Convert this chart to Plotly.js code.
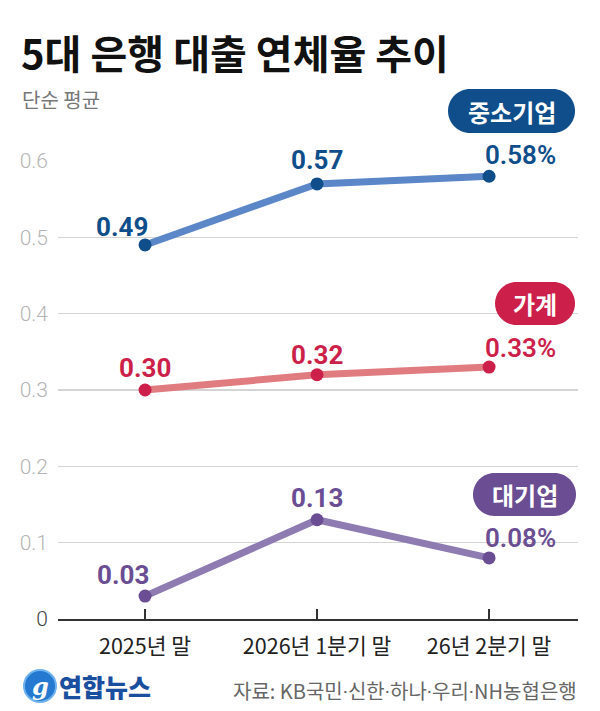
<!DOCTYPE html>
<html>
<head>
<meta charset="utf-8">
<script src="https://cdn.plot.ly/plotly-3.0.1.min.js"></script>
<style>
  html, body { margin: 0; padding: 0; background: #fff; }
  #chart { width: 600px; height: 711px; }
</style>
</head>
<body>
<div id="chart"></div>
<script>
// Periods on the x axis
const periods = ['2025년 말', '2026년 1분기 말', '26년 2분기 말'];

// Delinquency rates (%), simple average of five banks
const smeRates = [0.49, 0.57, 0.58];       // 중소기업
const householdRates = [0.30, 0.32, 0.33]; // 가계
const largeCorpRates = [0.03, 0.13, 0.08]; // 대기업

// Y axis ticks
const yTickVals = [0, 0.1, 0.2, 0.3, 0.4, 0.5, 0.6];
const yTickText = ['<span style="color:#444">0</span>', '0.1', '0.2', '0.3', '0.4', '0.5', '0.6'];

// Series names
const seriesNames = ['중소기업', '가계', '대기업'];

// Text
const titleText = '5대 은행 대출 연체율 추이';
const subtitleText = '단순 평균';
const sourceText = '자료: KB국민·신한·하나·우리·NH농협은행';
const logoText = '연합뉴스';

// ---- geometry helpers (pixel -> paper) ----
const W = 600, H = 711;
const M = { l: 58, r: 22, t: 161, b: 92 };
const PW = W - M.l - M.r, PH = H - M.t - M.b;
const px = x => (x - M.l) / PW;
const py = y => (H - M.b - y) / PH;

// Rounded pill outline as an SVG path in paper coordinates
function pillPath(x0, y0, x1, y1) {
  const r = (y1 - y0) / 2, k = 0.5523 * r;
  const P = (x, y) => px(x).toFixed(5) + ',' + py(y).toFixed(5);
  return 'M' + P(x0 + r, y0) +
    ' L' + P(x1 - r, y0) +
    ' C' + P(x1 - r + k, y0) + ' ' + P(x1, y0 + r - k) + ' ' + P(x1, y0 + r) +
    ' C' + P(x1, y0 + r + k) + ' ' + P(x1 - r + k, y1) + ' ' + P(x1 - r, y1) +
    ' L' + P(x0 + r, y1) +
    ' C' + P(x0 + r - k, y1) + ' ' + P(x0, y0 + r + k) + ' ' + P(x0, y0 + r) +
    ' C' + P(x0, y0 + r - k) + ' ' + P(x0 + r - k, y0) + ' ' + P(x0 + r, y0) + ' Z';
}

// Style of each series: line/marker colours, value-label offsets, badge box
const series = [
  { name: seriesNames[0], y: smeRates, line: '#5b87c9', dark: '#0f4e8a',
    dx: [-23, 0, 31], dy: [18, 24, 21], badge: [448, 89, 575, 133] },
  { name: seriesNames[1], y: householdRates, line: '#e07c80', dark: '#cc1f4a',
    dx: [0, 0, 31], dy: [22, 20, 19], badge: [495, 282, 575, 325] },
  { name: seriesNames[2], y: largeCorpRates, line: '#8d7bb2', dark: '#6a4d93',
    dx: [-22, 0, 31], dy: [21, 22, 20], badge: [473, 473, 576, 516] }
];

const NUM_FONT = 'Roboto, "Noto Sans", sans-serif';
const KR_FONT = '"Noto Sans CJK KR", "Noto Sans", sans-serif';

const traces = series.map(s => ({
  type: 'scatter',
  mode: 'lines+markers',
  x: periods,
  y: s.y,
  name: s.name,
  line: { color: s.line, width: 7 },
  marker: { color: s.dark, size: 13 },
  cliponaxis: false,
  hoverinfo: 'skip'
}));

const annotations = [];
const shapes = [];

series.forEach(s => {
  s.y.forEach((v, i) => {
    const last = i === s.y.length - 1;
    annotations.push({
      x: periods[i], y: v, xref: 'x', yref: 'y',
      text: v.toFixed(2) + (last ? '%' : ''),
      showarrow: false, xanchor: 'center', yanchor: 'middle',
      xshift: s.dx[i], yshift: s.dy[i],
      font: { family: NUM_FONT, size: 26, color: s.dark, weight: last ? 600 : 700 }
    });
  });
  const [bx0, by0, bx1, by1] = s.badge;
  shapes.push({
    type: 'path', xref: 'paper', yref: 'paper',
    path: pillPath(bx0, by0, bx1, by1),
    fillcolor: s.dark, line: { width: 0 }, layer: 'above'
  });
  annotations.push({
    xref: 'paper', yref: 'paper',
    x: px((bx0 + bx1) / 2), y: py((by0 + by1) / 2),
    text: s.name, showarrow: false, xanchor: 'center', yanchor: 'middle',
    font: { family: KR_FONT, size: 24, color: '#ffffff', weight: 700 }
  });
});

// Title and subtitle
annotations.push({
  xref: 'paper', yref: 'paper', x: px(19), y: py(52),
  xanchor: 'left', yanchor: 'middle', showarrow: false,
  text: titleText,
  font: { family: KR_FONT, size: 40, color: '#111111', weight: 700 }
});
annotations.push({
  xref: 'paper', yref: 'paper', x: px(20), y: py(100),
  xanchor: 'left', yanchor: 'middle', showarrow: false,
  text: subtitleText,
  font: { family: KR_FONT, size: 20, color: '#777777', weight: 400 }
});

// Footer: logo and source (middle dots set in a narrow Latin face)
shapes.push({
  type: 'circle', xref: 'paper', yref: 'paper',
  x0: px(24), x1: px(56), y0: py(702), y1: py(670),
  fillcolor: '#2579d0', line: { color: '#6fb3ee', width: 2 }, layer: 'above'
});
annotations.push({
  xref: 'paper', yref: 'paper', x: px(40), y: py(686),
  xanchor: 'center', yanchor: 'middle', showarrow: false,
  text: '<i>g</i>',
  font: { family: '"DejaVu Serif", serif', size: 24, color: '#ffffff', weight: 700 }
});
annotations.push({
  xref: 'paper', yref: 'paper', x: px(57), y: py(686),
  xanchor: 'left', yanchor: 'middle', showarrow: false,
  text: logoText,
  font: { family: KR_FONT, size: 25, color: '#1a4e9e', weight: 900 }
});
annotations.push({
  xref: 'paper', yref: 'paper', x: px(579), y: py(690),
  xanchor: 'right', yanchor: 'middle', showarrow: false,
  text: sourceText.split('·').join('<span style="font-family:Roboto">·</span>'),
  font: { family: KR_FONT, size: 20, color: '#666666', weight: 400 }
});

const layout = {
  width: W, height: H,
  margin: M,
  paper_bgcolor: '#ffffff', plot_bgcolor: '#ffffff',
  showlegend: false,
  xaxis: {
    type: 'category',
    range: [-0.506, 2.517],
    showgrid: false, zeroline: false,
    showline: true, linecolor: '#333333', linewidth: 2,
    ticks: 'inside', ticklen: 10, tickwidth: 2, tickcolor: '#333333',
    ticklabelstandoff: 7,
    tickfont: { family: KR_FONT, size: 21.5, color: '#222222' },
    fixedrange: true
  },
  yaxis: {
    range: [0, 0.6],
    tickvals: yTickVals, ticktext: yTickText,
    showgrid: true, gridcolor: '#d4d4d4', gridwidth: 1.5,
    zeroline: false, showline: false, ticks: '',
    ticklabelstandoff: 9,
    tickfont: { family: NUM_FONT, size: 21, color: '#b4b4b4', weight: 300 },
    fixedrange: true
  },
  annotations: annotations,
  shapes: shapes
};

Plotly.newPlot('chart', traces, layout, { staticPlot: true, displayModeBar: false });
</script>
</body>
</html>
